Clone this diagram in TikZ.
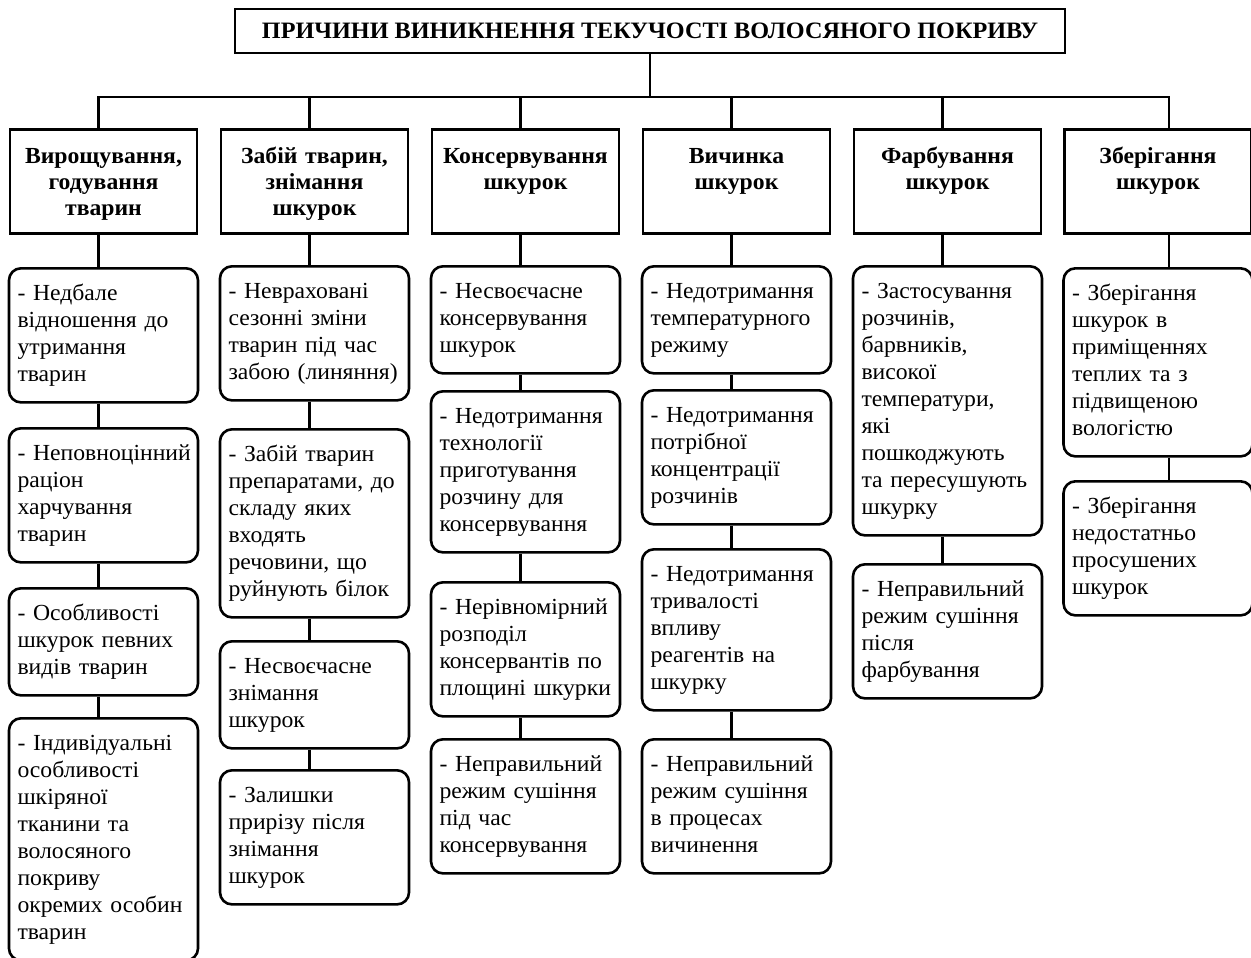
\documentclass[tikz,border=0pt]{standalone}
\usepackage{fontspec}
\setmainfont[FakeStretch=1.03]{Liberation Serif}
\exhyphenpenalty=10000
\hyphenpenalty=10000

\begin{document}
\begin{tikzpicture}[x=1pt, y=-1pt,
    titlebox/.style={draw=black, line width=2.8pt, font=\bfseries\fontsize{23.5}{27}\selectfont, minimum width=830pt, minimum height=44pt},
    headbox/.style={draw=black, line width=2.8pt, font=\bfseries\fontsize{23}{26}\selectfont, align=center, text width=175pt, inner xsep=6pt, inner ysep=15pt, text height=19pt, text depth=55pt, anchor=north},
    causebox/.style={draw=black, line width=2.6pt, rounded corners=12pt, font=\fontsize{23}{27}\selectfont, align=left, text width=172pt, inner xsep=8.5pt, inner ysep=13pt, text height=19pt, anchor=north, execute at end node=\strut},
    link/.style={line width=2.4pt}]
        \useasboundingbox (0, 0) rectangle (1251, 958);
        \node [titlebox] at (650, 31)  (title) {ПРИЧИНИ ВИНИКНЕННЯ ТЕКУЧОСТІ ВОЛОСЯНОГО ПОКРИВУ};
        \coordinate (bus) at (650, 97);
        % stages
        \node [headbox] at (103.5, 128)  (grow)  {Вирощування,\\годування\\тварин};
        \node [headbox] at (314.5, 128)  (slay)  {Забій тварин,\\знімання\\шкурок};
        \node [headbox] at (525.5, 128)  (cure)  {Консервування\\шкурок};
        \node [headbox] at (736.5, 128)  (tan)   {Вичинка\\шкурок};
        \node [headbox] at (947.5, 128)  (dye)   {Фарбування\\шкурок};
        \node [headbox] at (1158, 128)   (store) {Зберігання\\шкурок};
        % causes
        \node [causebox] at (103.5, 267) (grow1) {-~Недбале\\відношення до\\утримання\\тварин};
        \node [causebox] at (103.5, 427) (grow2) {-~Неповноцінний\\раціон\\харчування\\тварин};
        \node [causebox] at (103.5, 587) (grow3) {-~Особливості\\шкурок певних\\видів тварин};
        \node [causebox] at (103.5, 717) (grow4) {-~Індивідуальні\\особливості\\шкіряної\\тканини та\\волосяного\\покриву\\окремих~особин\\тварин};
        \node [causebox] at (314.5, 265) (slay1) {-~Невраховані\\сезонні зміни\\тварин під час\\забою~(линяння)};
        \node [causebox] at (314.5, 428) (slay2) {-~Забій тварин\\препаратами,~до\\складу яких\\входять\\речовини, що\\руйнують~білок};
        \node [causebox] at (314.5, 640) (slay3) {-~Несвоєчасне\\знімання\\шкурок};
        \node [causebox] at (314.5, 769) (slay4) {-~Залишки\\прирізу після\\знімання\\шкурок};
        \node [causebox] at (525.5, 265) (cure1) {-~Несвоєчасне\\консервування\\шкурок};
        \node [causebox] at (525.5, 390) (cure2) {-~Недотримання\\технології\\приготування\\розчину для\\консервування};
        \node [causebox] at (525.5, 581) (cure3) {-~Нерівномірний\\розподіл\\консервантів~по\\площині~шкурки};
        \node [causebox] at (525.5, 738) (cure4) {-~Неправильний\\режим~сушіння\\під час\\консервування};
        \node [causebox] at (736.5, 265) (tan1)  {-~Недотримання\\температурного\\режиму};
        \node [causebox] at (736.5, 389) (tan2)  {-~Недотримання\\потрібної\\концентрації\\розчинів};
        \node [causebox] at (736.5, 548) (tan3)  {-~Недотримання\\тривалості\\впливу\\реагентів~на\\шкурку};
        \node [causebox] at (736.5, 738) (tan4)  {-~Неправильний\\режим~сушіння\\в процесах\\вичинення};
        \node [causebox] at (947.5, 265) (dye1)  {-~Застосування\\розчинів,\\барвників,\\високої\\температури,\\які\\пошкоджують\\та~пересушують\\шкурку};
        \node [causebox] at (947.5, 563) (dye2)  {-~Неправильний\\режим~сушіння\\після\\фарбування};
        \node [causebox] at (1158, 267)  (store1) {-~Зберігання\\шкурок в\\приміщеннях\\теплих та з\\підвищеною\\вологістю};
        \node [causebox] at (1158, 480)  (store2) {-~Зберігання\\недостатньо\\просушених\\шкурок};
        % tree
        \draw [link] (title) -- (bus);
        \draw [link] ([xshift=-5pt]grow.north) |- (bus) -| ([xshift=11pt]store.north);
        \draw [link, transform canvas={xshift=-5pt}]
            (slay) -- (slay |- bus) (cure) -- (cure |- bus)
            (tan) -- (tan |- bus) (dye) -- (dye |- bus);
        \draw [link, transform canvas={xshift=-5pt}]
            (grow) edge (grow1) (grow1) edge (grow2) (grow2) edge (grow3) (grow3) edge (grow4)
            (slay) edge (slay1) (slay1) edge (slay2) (slay2) edge (slay3) (slay3) edge (slay4)
            (cure) edge (cure1) (cure1) edge (cure2) (cure2) edge (cure3) (cure3) edge (cure4)
            (tan) edge (tan1) (tan1) edge (tan2) (tan2) edge (tan3) (tan3) edge (tan4)
            (dye) edge (dye1) (dye1) edge (dye2);
        \draw [link, transform canvas={xshift=11pt}]
            (store) edge (store1) (store1) edge (store2);
    \end{tikzpicture}
\end{document}
